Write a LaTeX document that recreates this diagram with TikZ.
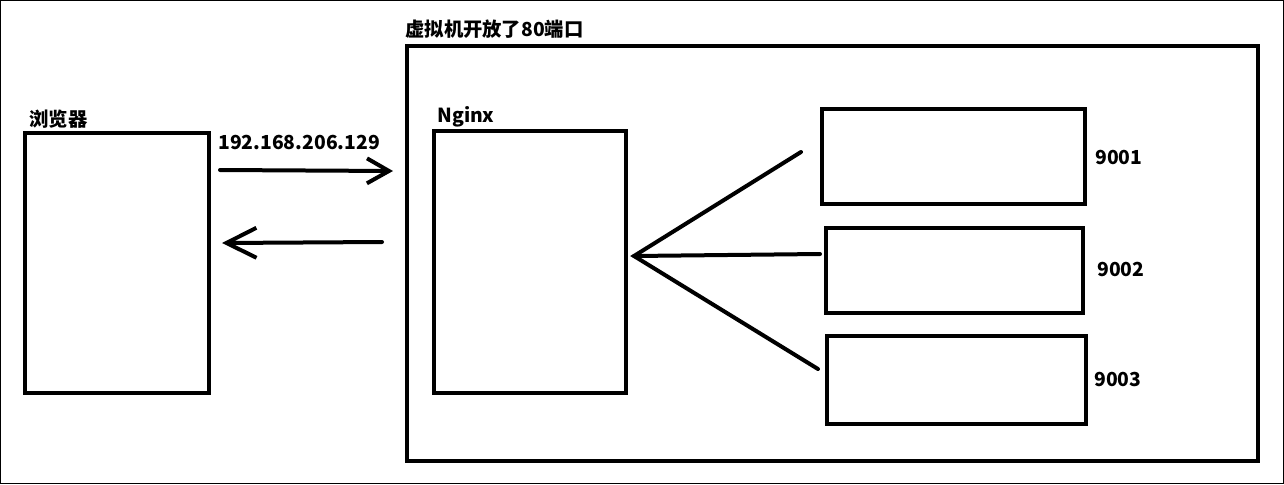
\documentclass[tikz,border=0pt]{standalone}
\usepackage{fontspec}
\setmainfont{Noto Sans CJK SC}
\usetikzlibrary{arrows.meta}

\begin{document}
\begin{tikzpicture}[x=0.02cm,y=-0.02cm,
  box/.style={draw,line width=0.08cm,inner sep=0pt},
  lbl/.style={font=\bfseries\fontsize{11}{13}\selectfont,inner sep=0pt,anchor=west},
  wire/.style={line width=0.08cm,line cap=round},
  barb/.style={wire,-{Straight Barb[length=0.44cm,width=0.5cm,line width=0.08cm]}},
  bigbarb/.style={wire,-{Straight Barb[length=0.6cm,width=0.6cm,line width=0.08cm]}}]
\useasboundingbox (0,0) rectangle (1284,484);
\draw[line width=0.02cm] (0.5,0.5) rectangle (1283.5,483.5);
% boxes
\node[box,minimum width=3.68cm,minimum height=5.2cm] (browser) at (117,263) {};
\node[box,minimum width=17.02cm,minimum height=8.3cm] (vm) at (832.5,253.5) {};
\node[box,minimum width=3.84cm,minimum height=5.24cm] (nginx) at (530,262) {};
\node[box,minimum width=5.26cm,minimum height=1.9cm] (s1) at (953.5,156.5) {};
\node[box,minimum width=5.14cm,minimum height=1.7cm] (s2) at (954.5,270.5) {};
\node[box,minimum width=5.18cm,minimum height=1.76cm] (s3) at (956.5,380) {};
% labels
\node[lbl] (lbrowser) at (29,119) {浏览器};
\node[lbl] (lvm) at (405,29) {虚拟机开放了80端口};
\node[lbl] (lnginx) at (437,117) {Nginx};
\node[lbl] (lip) at (218,142) {192.168.206.129};
\node[lbl] (l1) at (1095,157) {9001};
\node[lbl] (l2) at (1097,269) {9002};
\node[lbl] (l3) at (1094,379) {9003};
% request / response
\coordinate (a1) at (220,170);
\coordinate (a2) at (393,171);
\coordinate (b1) at (382,242);
\coordinate (b2) at (222,243);
\draw[barb] (a1) -- (a2);
\draw[bigbarb] (b1) -- (b2);
% fan out to the three servers
\coordinate (f0) at (634,256);
\coordinate (t1) at (801,152);
\coordinate (t2) at (820,254);
\coordinate (t3) at (818,369);
\draw[wire] (t1) -- (f0) -- (t3);
\draw[wire] (f0) -- (t2);
\end{tikzpicture}
\end{document}
